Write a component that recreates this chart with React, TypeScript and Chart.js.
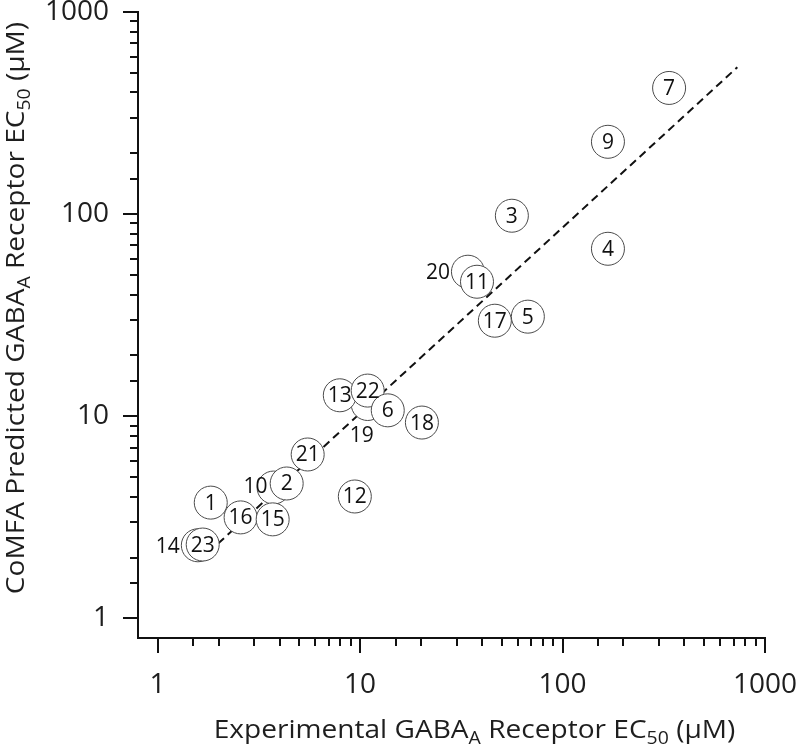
import React, { useEffect, useRef } from "react";
import { Chart, registerables } from "chart.js";

Chart.register(...registerables);

// ---- data ----
const compoundLabels = ["14", "23", "10", "2", "19", "13", "22", "6", "20", "11", "1", "16", "15", "21", "12", "18", "17", "5", "3", "4", "9", "7"];
const experimentalEC50 = [1.58, 1.67, 3.74, 4.34, 10.9, 7.94, 10.9, 13.7, 34.1, 37.8, 1.83, 2.57, 3.7, 5.51, 9.42, 20.2, 46.3, 67.4, 56.2, 167.6, 167.6, 336];
const predictedEC50 = [2.3, 2.32, 4.44, 4.65, 11.5, 12.7, 13.4, 10.7, 51.9, 46.3, 3.74, 3.16, 3.09, 6.47, 4.01, 9.31, 29.7, 31.1, 98.2, 67.4, 228, 421];
const fitX = [1.6, 730];
const fitY = [1.92, 533];
const majorTickValues = [1, 10, 100, 1000];

// ---- styling helpers ----
const FONT = "'Open Sans', 'Noto Sans', sans-serif";
const TEXT_COLOR = "#1e1e1e";
const outsideLabelOffsets: Record<string, [number, number]> = {
  "14": [-30, 1],
  "10": [-18, -2],
  "19": [-6, 31],
  "20": [-30, 0],
};

const isMajor = (v: number) => {
  const l = Math.log10(v);
  return Math.abs(l - Math.round(l)) < 1e-6;
};

type Part = { t: string; sub?: boolean };
const xTitleParts: Part[] = [
  { t: "Experimental GABA" },
  { t: "A", sub: true },
  { t: " Receptor EC" },
  { t: "50", sub: true },
  { t: " (\u03bcM)" },
];
const yTitleParts: Part[] = [
  { t: "CoMFA Predicted GABA" },
  { t: "A", sub: true },
  { t: " Receptor EC" },
  { t: "50", sub: true },
  { t: " (\u03bcM)" },
];

function drawRich(ctx: CanvasRenderingContext2D, parts: Part[], size: number, stretch: number) {
  const subSize = Math.round(size * 0.68);
  const mainFont = `${size}px ${FONT}`;
  const subFont = `${subSize}px ${FONT}`;
  let total = 0;
  for (const p of parts) {
    ctx.font = p.sub ? subFont : mainFont;
    total += ctx.measureText(p.t).width;
  }
  ctx.save();
  ctx.scale(stretch, 1);
  let x = -total / 2;
  ctx.textAlign = "left";
  ctx.textBaseline = "alphabetic";
  ctx.fillStyle = TEXT_COLOR;
  for (const p of parts) {
    ctx.font = p.sub ? subFont : mainFont;
    ctx.fillText(p.t, x, p.sub ? size * 0.22 : 0);
    x += ctx.measureText(p.t).width;
  }
  ctx.restore();
}

const axisTitlesPlugin = {
  id: "axisTitles",
  afterDraw(chart: any) {
    const ctx = chart.ctx as CanvasRenderingContext2D;
    const area = chart.chartArea;
    ctx.save();
    ctx.translate((area.left + area.right) / 2 + 23, area.bottom + 100);
    drawRich(ctx, xTitleParts, 26, 1.08);
    ctx.restore();
    ctx.save();
    ctx.translate(24, (area.top + area.bottom) / 2 - 17);
    ctx.rotate(-Math.PI / 2);
    drawRich(ctx, yTitleParts, 26, 1.08);
    ctx.restore();
  },
};

const tickMarksPlugin = {
  id: "tickMarks",
  afterDraw(chart: any) {
    const ctx = chart.ctx as CanvasRenderingContext2D;
    const area = chart.chartArea;
    ctx.save();
    ctx.strokeStyle = "#111";
    ctx.lineWidth = 2;
    const xs = chart.scales.x;
    for (const t of xs.ticks) {
      const px = Math.round(xs.getPixelForValue(t.value));
      const len = isMajor(t.value) ? 15 : 8;
      ctx.beginPath();
      ctx.moveTo(px, area.bottom);
      ctx.lineTo(px, area.bottom + len);
      ctx.stroke();
    }
    const ys = chart.scales.y;
    for (const t of ys.ticks) {
      const py = Math.round(ys.getPixelForValue(t.value));
      const len = isMajor(t.value) ? 15 : 8;
      ctx.beginPath();
      ctx.moveTo(area.left, py);
      ctx.lineTo(area.left - len, py);
      ctx.stroke();
    }
    ctx.restore();
  },
};

const pointLabelsPlugin = {
  id: "pointLabels",
  afterDatasetsDraw(chart: any) {
    const ctx = chart.ctx as CanvasRenderingContext2D;
    const meta = chart.getDatasetMeta(0);
    ctx.save();
    ctx.font = `21px ${FONT}`;
    ctx.fillStyle = "#111";
    ctx.textAlign = "center";
    ctx.textBaseline = "middle";
    meta.data.forEach((el: any, i: number) => {
      const lab = compoundLabels[i];
      const off = outsideLabelOffsets[lab] || [0, 0];
      ctx.fillText(lab, el.x + off[0], el.y + off[1] + 1);
    });
    ctx.restore();
  },
};

const tickLabel = (v: any) =>
  majorTickValues.some((m) => Math.abs(m - Number(v)) < 1e-9) ? String(Number(v)) : "";

export default function App() {
  const canvasRef = useRef<HTMLCanvasElement | null>(null);

  useEffect(() => {
    if (!canvasRef.current) return;
    const points = experimentalEC50.map((x, i) => ({ x, y: predictedEC50[i] }));
    const fit = fitX.map((x, i) => ({ x, y: fitY[i] }));
    const tickFont = { family: FONT, size: 28 };
    const chart = new Chart(canvasRef.current, {
      type: "scatter",
      data: {
        datasets: [
          {
            label: "compounds",
            data: points,
            pointRadius: 16.5,
            pointHoverRadius: 16.5,
            pointBackgroundColor: "#ffffff",
            pointBorderColor: "#4a4a4a",
            pointBorderWidth: 1,
            clip: false,
            order: 0,
          } as any,
          {
            type: "line",
            label: "fit",
            data: fit,
            borderColor: "#111",
            borderWidth: 2,
            borderDash: [8, 5],
            pointRadius: 0,
            fill: false,
            showLine: true,
            order: 1,
          } as any,
        ],
      },
      options: {
        responsive: false,
        animation: false,
        devicePixelRatio: 1,
        layout: { autoPadding: false, padding: { top: 12, right: 35, left: 0, bottom: 0 } },
        plugins: { legend: { display: false }, tooltip: { enabled: false } },
        events: [],
        scales: {
          x: {
            type: "logarithmic",
            min: 0.8,
            max: 1000,
            grid: { display: false, drawTicks: false },
            border: { display: true, color: "#111", width: 2 },
            ticks: {
              autoSkip: false,
              maxRotation: 0,
              minRotation: 0,
              padding: 30,
              color: TEXT_COLOR,
              font: tickFont,
              callback: tickLabel,
            },
            afterBuildTicks: (s: any) => {
              s.ticks = s.ticks.filter((t: any) => t.value >= 0.999);
            },
            afterFit: (s: any) => {
              s.height = 107;
              s.paddingLeft = 0;
              s.paddingRight = 0;
            },
          },
          y: {
            type: "logarithmic",
            min: 0.8,
            max: 1000,
            grid: { display: false, drawTicks: false },
            border: { display: true, color: "#111", width: 2 },
            ticks: {
              autoSkip: false,
              padding: 29,
              color: TEXT_COLOR,
              font: tickFont,
              callback: tickLabel,
            },
            afterBuildTicks: (s: any) => {
              s.ticks = s.ticks.filter((t: any) => t.value >= 0.999);
            },
            afterFit: (s: any) => {
              s.width = 138;
              s.paddingTop = 0;
              s.paddingBottom = 0;
            },
          },
        },
      } as any,
      plugins: [tickMarksPlugin, pointLabelsPlugin, axisTitlesPlugin],
    });
    return () => chart.destroy();
  }, []);

  return (
    <div style={{ position: "fixed", left: 0, top: 0, width: 800, height: 745, background: "#fff" }}>
      <canvas ref={canvasRef} width={800} height={745} />
    </div>
  );
}
